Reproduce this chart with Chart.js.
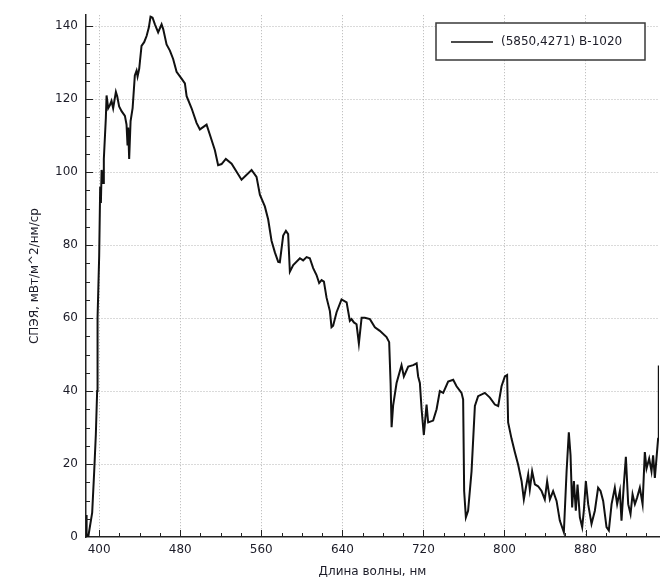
<!DOCTYPE html>
<html>
<head>
  <meta charset="utf-8">
  <title>СПЭЯ</title>
  <script src="https://cdn.jsdelivr.net/npm/chart.js"></script>
  <style>
    body { margin: 0; background: #fff; }
  </style>
</head>
<body>
  <canvas id="spectrumChart" width="666" height="584"></canvas>

  <script>
    // Wavelength, nm
    const wavelengths = [
      387.0, 387.6, 389.2, 393.1, 395.1, 396.7, 398.0, 398.4, 400.0, 401.0,
      401.7, 402.4, 403.9, 404.6, 406.6, 407.3, 408.9, 410.6, 412.2, 413.8,
      416.5, 417.8, 419.7, 422.1, 425.4, 427.0, 428.0, 428.6, 429.6, 431.0,
      433.0, 435.2, 436.9, 437.9, 439.5, 441.8, 444.4, 446.8, 449.0, 450.7,
      452.7, 455.0, 458.2, 461.6, 463.2, 466.5, 469.8, 473.0, 476.4, 481.3,
      484.6, 486.3, 491.2, 496.1, 499.4, 506.0, 509.2, 514.2, 517.4, 520.8,
      525.0, 530.7, 540.5, 550.4, 555.3, 558.6, 563.5, 566.8, 570.1, 573.4,
      576.7, 578.3, 581.6, 584.3, 586.5, 588.2, 591.5, 598.1, 601.3, 604.7,
      607.9, 611.2, 614.5, 617.1, 619.5, 621.8, 624.4, 627.7, 629.3, 630.9,
      634.3, 639.2, 644.2, 647.4, 649.1, 651.4, 654.0, 656.3, 659.0, 662.2,
      667.2, 672.1, 677.0, 683.6, 686.2, 687.6, 688.6, 690.1, 693.5, 698.4,
      700.7, 705.0, 709.9, 713.3, 714.8, 716.5, 718.2, 720.4, 723.1, 724.7,
      729.6, 733.0, 736.2, 739.5, 744.4, 749.4, 752.7, 757.6, 759.2, 760.2,
      761.9, 764.1, 767.5, 770.8, 774.0, 780.6, 785.6, 790.5, 793.8, 797.1,
      800.4, 802.6, 803.6, 807.0, 810.2, 813.5, 816.9, 819.1, 821.1, 823.4,
      825.0, 827.3, 830.0, 833.2, 836.6, 839.8, 842.1, 844.8, 848.0, 851.4,
      854.6, 858.6, 861.3, 863.5, 865.2, 866.8, 868.5, 870.4, 872.1, 874.4,
      876.7, 878.3, 880.3, 882.6, 885.9, 889.2, 892.4, 894.8, 897.4, 900.7,
      903.0, 905.7, 908.9, 911.2, 913.9, 915.5, 917.8, 919.8, 922.1, 924.4,
      926.4, 928.7, 930.9, 933.6, 936.3, 938.5, 940.2, 942.8, 945.1, 946.7,
      948.4, 950.0, 951.6, 952.3
    ];

    // Spectral radiance, mW/m^2/nm/sr
    const radiance = [
      6, 0, 0, 6.7, 18, 28, 40, 60, 77, 96,
      91.5, 100.6, 97, 103.6, 114.9, 121, 117.5, 118.4, 119.5, 117.5,
      122, 120.8, 118, 116.7, 115.4, 113, 107.3, 112.2, 103.6, 114,
      117.5, 126.5, 127.8, 126.2, 128.3, 134.6, 135.6, 137.3, 139.6, 142.6,
      142.3, 140.5, 138.3, 140.5, 139.2, 135, 133.3, 131, 127.5, 125.6,
      124.3, 120.8, 117.5, 113.5, 111.7, 113, 110.3, 106, 101.9, 102.2,
      103.6, 102.3, 97.9, 100.6, 98.7, 93.8, 90.6, 87, 81.2, 78,
      75.4, 75.3, 82.6, 83.9, 83, 72.7, 74.5, 76.4, 75.8, 76.7,
      76.4, 73.7, 71.8, 69.6, 70.4, 70, 65.6, 61.9, 57.5, 57.9,
      61.6, 65.1, 64.3, 59.2, 59.7, 58.8, 58.3, 53, 60.1, 60.1,
      59.7, 57.5, 56.5, 54.8, 53.4, 42.2, 30.1, 36, 42.2, 47.1,
      44, 46.7, 47.1, 47.6, 44, 42.2, 35, 28, 36.3, 31.4,
      31.9, 35, 40, 39.5, 42.6, 43.1, 41.3, 39.5, 37.7, 12.6,
      5.4, 7.2, 18, 35.9, 38.6, 39.5, 38.2, 36.3, 35.9, 41.3,
      44, 44.4, 31.4, 26.9, 23.3, 19.8, 15.3, 10.3, 13.5, 17.1,
      13, 18, 14.4, 13.9, 12.6, 10.3, 15.3, 10.3, 12.6, 9.9,
      4.5, 1.3, 18, 28.7, 22.4, 8.1, 15.3, 7.2, 14.4, 5.4,
      2.7, 7.2, 15.3, 9, 3.6, 7.2, 13.5, 12.6, 9.9, 2.7,
      1.8, 9, 13.5, 9, 12.6, 4.5, 14.4, 22, 9, 6.3,
      11.7, 9, 10.8, 13.5, 9, 23.3, 18.8, 21.5, 18, 22.4,
      16.2, 21.5, 26.9, 47
    ];

    const xTicks = [400, 480, 560, 640, 720, 800, 880];
    const yTicks = [0, 20, 40, 60, 80, 100, 120, 140];
    const xMinorStep = 20;
    const yMinorStep = 5;
    const seriesLabel = '(5850,4271) B-1020';

    const FONT = 'DejaVu Sans, Verdana, sans-serif';
    const TEXT = '#1c1c28';
    const GRID = '#b4b4b4';

    // inward tick marks plus the boxed legend in the top right corner
    const axisDecor = {
      id: 'axisDecor',
      afterDraw(chart) {
        const { ctx, chartArea: a, scales: { x, y } } = chart;
        ctx.save();
        ctx.strokeStyle = '#222';
        ctx.lineWidth = 1;
        ctx.beginPath();
        for (let v = xTicks[0]; v <= x.max; v += xMinorStep) {
          const px = Math.round(x.getPixelForValue(v)) + 0.5;
          const len = xTicks.includes(v) ? 7 : 4;
          ctx.moveTo(px, a.bottom);
          ctx.lineTo(px, a.bottom - len);
        }
        for (let v = yMinorStep; v <= y.max; v += yMinorStep) {
          const py = Math.round(y.getPixelForValue(v)) + 0.5;
          const len = yTicks.includes(v) ? 7 : 4;
          ctx.moveTo(a.left, py);
          ctx.lineTo(a.left + len, py);
        }
        ctx.stroke();

        // legend
        const bx = 436, by = 23, bw = 209, bh = 37;
        ctx.fillStyle = '#fff';
        ctx.fillRect(bx, by, bw, bh);
        ctx.strokeStyle = '#3a3a3a';
        ctx.lineWidth = 1.5;
        ctx.strokeRect(bx, by, bw, bh);
        ctx.strokeStyle = '#111';
        ctx.lineWidth = 1.5;
        ctx.beginPath();
        ctx.moveTo(451, 42);
        ctx.lineTo(493, 42);
        ctx.stroke();
        ctx.fillStyle = TEXT;
        ctx.font = '12px ' + FONT;
        ctx.textBaseline = 'middle';
        ctx.textAlign = 'left';
        ctx.fillText(chart.data.datasets[0].label, 501, 42);
        ctx.restore();
      }
    };

    const ctx = document.getElementById('spectrumChart').getContext('2d');
    new Chart(ctx, {
      type: 'line',
      data: {
        datasets: [{
          label: seriesLabel,
          data: wavelengths.map((w, i) => ({ x: w, y: radiance[i] })),
          borderColor: '#111',
          borderWidth: 2,
          pointRadius: 0,
          tension: 0,
          fill: false
        }]
      },
      options: {
        responsive: false,
        animation: false,
        layout: { padding: { top: 6, right: 7, left: 0, bottom: 0 } },
        plugins: {
          legend: { display: false },
          tooltip: { enabled: false }
        },
        scales: {
          x: {
            type: 'linear',
            min: 387,
            max: 952.5,
            afterBuildTicks: s => { s.ticks = xTicks.map(v => ({ value: v })); },
            afterFit: s => { s.height = 47; },
            grid: { color: GRID, lineWidth: 1, drawTicks: false },
            border: { display: true, color: '#222', width: 1.5, dash: [1, 2] },
            ticks: { padding: 6, color: TEXT, font: { family: FONT, size: 12 } },
            title: {
              display: true,
              text: 'Длина волны, нм',
              color: TEXT,
              font: { family: FONT, size: 12 },
              padding: { top: 0, bottom: 5 }
            }
          },
          y: {
            type: 'linear',
            min: 0,
            max: 143,
            afterBuildTicks: s => { s.ticks = yTicks.map(v => ({ value: v })); },
            afterFit: s => { s.width = 86; },
            grid: {
              color: c => (c.tick && c.tick.value === 0 ? 'rgba(0,0,0,0)' : GRID),
              lineWidth: 1,
              drawTicks: false
            },
            border: { display: true, color: '#222', width: 1.5, dash: [1, 2] },
            ticks: { padding: 8, color: TEXT, font: { family: FONT, size: 12 } },
            title: {
              display: true,
              text: 'СПЭЯ, мВт/м^2/нм/ср',
              color: TEXT,
              font: { family: FONT, size: 12 },
              padding: { top: 28, bottom: 0 }
            }
          }
        }
      },
      plugins: [axisDecor]
    });
  </script>
</body>
</html>
